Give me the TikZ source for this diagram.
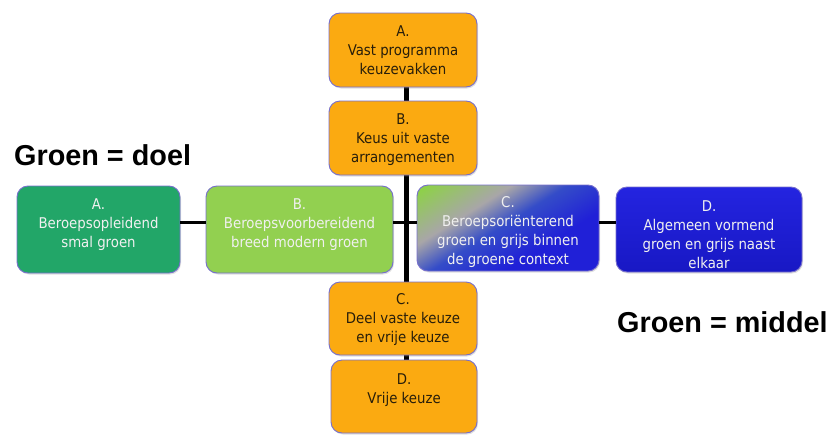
\documentclass[tikz,border=0pt]{standalone}
\usepackage{fontspec}
\setmainfont{DejaVu Sans Condensed}
\newfontfamily\bigfont{Liberation Sans}
\usetikzlibrary{shadows}
\definecolor{orangebox}{RGB}{251,170,17}
\definecolor{boxborder}{RGB}{118,110,205}
\definecolor{darkgreen}{RGB}{34,166,104}
\definecolor{lightgreen}{RGB}{146,208,80}
\definecolor{cgreen}{RGB}{142,208,74}
\definecolor{cgray}{RGB}{168,166,168}
\definecolor{cblue}{RGB}{52,76,200}
\definecolor{cblueb}{RGB}{32,32,215}
\definecolor{dtop}{RGB}{36,36,224}
\definecolor{dbot}{RGB}{24,24,196}
\definecolor{darktext}{RGB}{40,30,10}
\definecolor{lighttext}{RGB}{240,240,240}
\pgfdeclareverticalshading{cshade}{100bp}{color(0bp)=(cblueb); color(36bp)=(cblueb); color(52bp)=(cblue); color(64bp)=(cgray); color(82bp)=(cgreen); color(100bp)=(cgreen)}
\tikzset{
  box/.style={draw=boxborder, line width=0.9pt, rounded corners=11pt, inner sep=0pt,
    drop shadow={opacity=0.25, shadow xshift=1pt, shadow yshift=-1.5pt}},
  orangefill/.style={fill=orangebox},
  boxtext/.style={anchor=north, inner sep=0pt, align=center, font=\fontsize{14.8}{19}\selectfont},
  dtext/.style={boxtext, text=darktext},
  ltext/.style={boxtext, text=lighttext},
  conn/.style={line width=3pt, black},
  vconn/.style={line width=5pt, black},
  bigtext/.style={anchor=base west, inner sep=0pt, font=\bigfont\bfseries\fontsize{28.8}{32}\selectfont}
}
\begin{document}
\begin{tikzpicture}[x=1pt,y=-1pt]
\useasboundingbox (0,0) rectangle (832,434);
\coordinate (hl) at (0,222.5);
% vertical connector (behind boxes)
\coordinate (vtop) at (406,87);
\coordinate (vbot) at (406,360);
\draw[vconn] (vtop) -- (vbot);
% boxes
\node[box, orangefill, minimum width=148pt, minimum height=74pt] (ta) at (403,50) {};
\node[box, orangefill, minimum width=148pt, minimum height=74pt] (tb) at (403,138) {};
\node[box, fill=darkgreen, minimum width=163pt, minimum height=87pt] (la) at (98.5,229.5) {};
\node[box, fill=lightgreen, minimum width=187pt, minimum height=87pt] (lb) at (299.5,229.5) {};
\node[box, shading=cshade, shading angle=32, minimum width=182pt, minimum height=86pt] (rc) at (508,228) {};
\node[box, top color=dtop, bottom color=dbot, minimum width=186pt, minimum height=85pt] (rd) at (709,229.5) {};
\node[box, orangefill, minimum width=148pt, minimum height=73pt] (lc) at (403,318.5) {};
\node[box, orangefill, minimum width=146pt, minimum height=73pt] (ld) at (404,396.5) {};
% horizontal connectors
\draw[conn] (la.east |- hl) -- (lb.west |- hl);
\draw[conn] (lb.east |- hl) -- (rc.west |- hl);
\draw[conn] (rc.east |- hl) -- (rd.west |- hl);
% texts
\node[dtext] (tat) at ([yshift=-13pt]ta.north) {A.\\Vast programma\\keuzevakken};
\node[dtext] (tbt) at ([yshift=-13pt]tb.north) {B.\\Keus uit vaste\\arrangementen};
\node[ltext] (lat) at ([yshift=-13pt]la.north) {A.\\Beroepsopleidend\\smal groen};
\node[ltext] (lbt) at ([yshift=-13pt]lb.north) {B.\\Beroepsvoorbereidend\\breed modern groen};
\node[ltext] (rct) at ([yshift=-12pt]rc.north) {C.\\Beroepsoriënterend\\groen en grijs binnen\\de groene context};
\node[ltext] (rdt) at ([yshift=-14pt]rd.north) {D.\\Algemeen vormend\\groen en grijs naast\\elkaar};
\node[dtext] (lct) at ([yshift=-12pt]lc.north) {C.\\Deel vaste keuze\\en vrije keuze};
\node[dtext] (ldt) at ([yshift=-14pt]ld.north) {D.\\Vrije keuze};
\node[bigtext] (doel) at (14,165) {Groen = doel};
\node[bigtext] (middel) at (617,332) {Groen = middel};
\end{tikzpicture}
\end{document}
